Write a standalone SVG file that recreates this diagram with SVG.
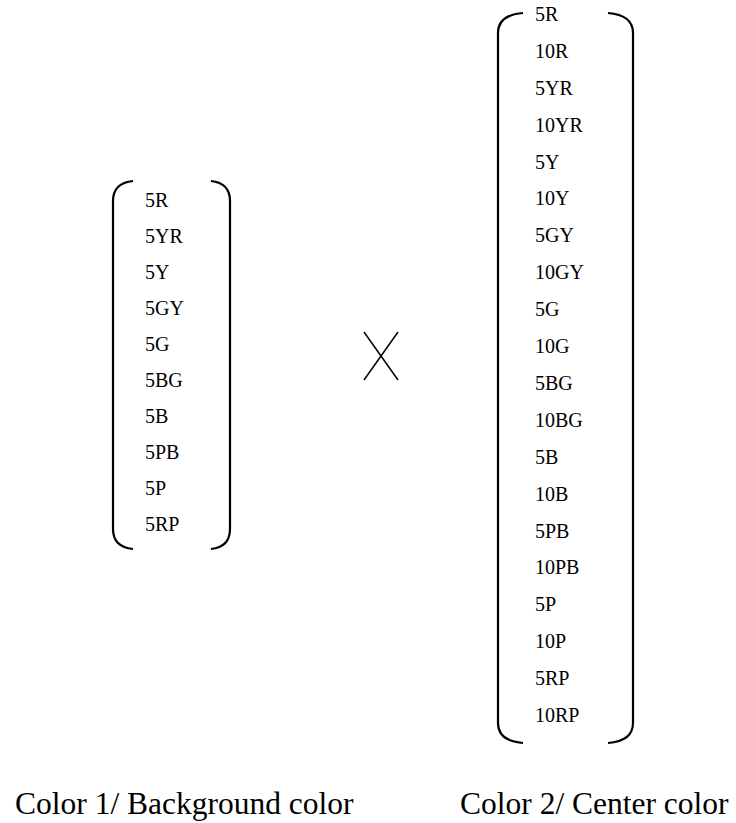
<svg xmlns="http://www.w3.org/2000/svg" width="736" height="823" viewBox="0 0 736 823">
  <style>
    .item { font-family: "Liberation Serif", "Times New Roman", serif; font-size: 20px; fill: #000; }
    .caption { font-family: "Liberation Serif", "Times New Roman", serif; font-size: 31.5px; fill: #000; }
    .bracket { fill: none; stroke: #000; stroke-width: 2.2; }
    .cross { fill: none; stroke: #000; stroke-width: 1.5; }
  </style>
  <rect width="736" height="823" fill="#fff"/>

  <!-- Color 1: background hues -->
  <g id="background-set">
    <path class="bracket" d="M133,181 Q113,183 113,201 L113,529 Q113,547 133,549"/>
    <path class="bracket" d="M211,181 Q230,183 230,201 L230,529 Q230,547 211,549"/>
    <text class="item" x="145" y="207">5R</text>
    <text class="item" x="145" y="243">5YR</text>
    <text class="item" x="145" y="279">5Y</text>
    <text class="item" x="145" y="315">5GY</text>
    <text class="item" x="145" y="351">5G</text>
    <text class="item" x="145" y="387">5BG</text>
    <text class="item" x="145" y="423">5B</text>
    <text class="item" x="145" y="459">5PB</text>
    <text class="item" x="145" y="495">5P</text>
    <text class="item" x="145" y="531">5RP</text>
  </g>

  <!-- multiplication sign -->
  <g id="times">
    <path class="cross" d="M364,332 L398,380 M398,332 L364,380"/>
  </g>

  <!-- Color 2: center hues -->
  <g id="center-set">
    <path class="bracket" d="M523,13 Q498,15 498,33 L498,723 Q498,741 523,743"/>
    <path class="bracket" d="M608,13 Q633,15 633,33 L633,723 Q633,741 608,743"/>
    <text class="item" x="535" y="21">5R</text>
    <text class="item" x="535" y="58">10R</text>
    <text class="item" x="535" y="95">5YR</text>
    <text class="item" x="535" y="132">10YR</text>
    <text class="item" x="535" y="169">5Y</text>
    <text class="item" x="535" y="205">10Y</text>
    <text class="item" x="535" y="242">5GY</text>
    <text class="item" x="535" y="279">10GY</text>
    <text class="item" x="535" y="316">5G</text>
    <text class="item" x="535" y="353">10G</text>
    <text class="item" x="535" y="390">5BG</text>
    <text class="item" x="535" y="427">10BG</text>
    <text class="item" x="535" y="464">5B</text>
    <text class="item" x="535" y="501">10B</text>
    <text class="item" x="535" y="538">5PB</text>
    <text class="item" x="535" y="574">10PB</text>
    <text class="item" x="535" y="611">5P</text>
    <text class="item" x="535" y="648">10P</text>
    <text class="item" x="535" y="685">5RP</text>
    <text class="item" x="535" y="722">10RP</text>
  </g>

  <!-- captions -->
  <g id="captions">
    <text class="caption" x="15" y="814">Color 1/ Background color</text>
    <text class="caption" x="460" y="814">Color 2/ Center color</text>
  </g>
</svg>
